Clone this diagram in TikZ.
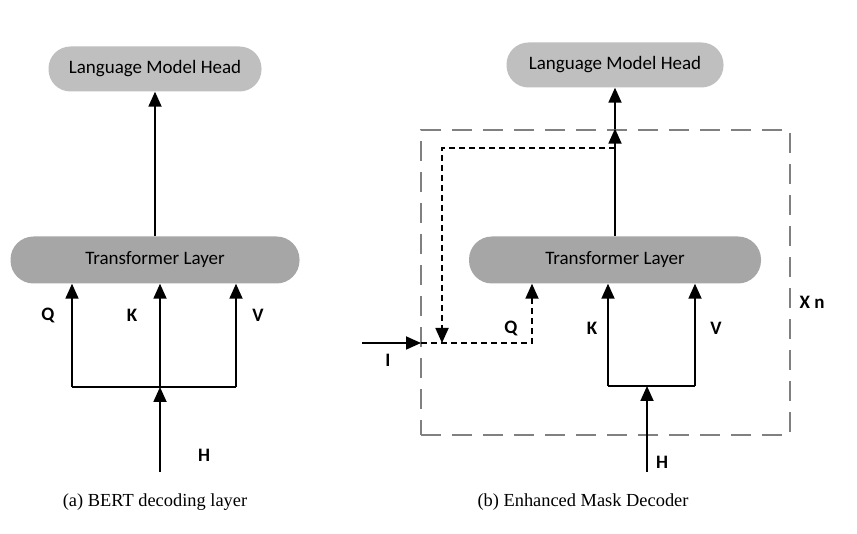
\documentclass[tikz,border=0pt]{standalone}
\usepackage{fontspec}
\setmainfont{Liberation Serif}
\newfontfamily\boxfont{Carlito}
\usetikzlibrary{arrows.meta}

\definecolor{headgray}{HTML}{BFBFBF}
\definecolor{layergray}{HTML}{A6A6A6}
\definecolor{repgray}{HTML}{808080}

\tikzset{
  lmhead/.style={fill=headgray, rounded corners=22pt, minimum height=45pt, inner sep=0pt, font=\boxfont\fontsize{19}{21}\selectfont},
  tlayer/.style={fill=layergray, rounded corners=23pt, minimum height=47pt, inner sep=0pt, font=\boxfont\fontsize{19}{21}\selectfont},
  lbl/.style={font=\boxfont\bfseries\fontsize{19}{21}\selectfont},
  capt/.style={font=\fontsize{18.4}{21}\selectfont},
  tip/.style={-{Triangle[length=15pt,width=13pt]}},
  flow/.style={line width=1.8pt, tip},
  plain/.style={line width=1.8pt},
  repbox/.style={draw=repgray, line width=2.8pt, dash pattern=on 20pt off 11pt, minimum width=369pt, minimum height=305pt, inner sep=0pt},
  skip/.style={line width=1.8pt, dash pattern=on 6pt off 4pt}
}

\begin{document}
\begin{tikzpicture}[x=1pt, y=-1pt]
\useasboundingbox (0,0) rectangle (857,534);

% (a) BERT decoding layer
\node[lmhead, minimum width=213pt] (lmh1) at (155,69) {Language Model Head};
\node[tlayer, minimum width=289pt] (tl1) at (155,260) {Transformer Layer};
\coordinate (q1) at (72,387);
\coordinate (k1) at (160,387);
\coordinate (v1) at (236,387);
\coordinate (h1) at (160,472);

\draw[flow] (tl1.north) -- (lmh1.south);
\draw[flow] (q1) -- (q1 |- tl1.south);
\draw[flow] (k1) -- (k1 |- tl1.south);
\draw[flow] (v1) -- (v1 |- tl1.south);
\draw[plain] (q1) -- (v1);
\draw[flow] (h1) -- (k1);

\node[lbl] (qa) at (48,315) {Q};
\node[lbl] (ka) at (132,315) {K};
\node[lbl] (va) at (258,315) {V};
\node[lbl] (ha) at (204,455) {H};
\node[capt] (capa) at (155,502) {(a) BERT decoding layer};

% (b) Enhanced Mask Decoder
\node[lmhead, minimum width=217pt] (lmh2) at (615,65) {Language Model Head};
\node[tlayer, minimum width=292pt] (tl2) at (615,260) {Transformer Layer};
\node[repbox] (rep) at (605.5,282.5) {};
\coordinate (out2) at (tl2.north |- rep.north);
\coordinate (fb) at (615,148);
\coordinate (fbl) at (442,148);
\coordinate (in2) at (421,343);
\coordinate (i0) at (362,343);
\coordinate (q2) at (532,343);
\coordinate (k2) at (608,386);
\coordinate (v2) at (695,386);
\coordinate (hb) at (647,386);
\coordinate (h2) at (647,472);

\draw[flow] (tl2.north) -- (out2);
\draw[flow] (out2) -- (lmh2.south);
\draw[skip, tip] (fb) -- (fbl) -- (fbl |- in2);
\draw[flow] (i0) -- (in2);
\draw[skip, tip] (in2) -- (q2) -- (q2 |- tl2.south);
\draw[flow] (k2) -- (k2 |- tl2.south);
\draw[flow] (v2) -- (v2 |- tl2.south);
\draw[plain] (k2) -- (v2);
\draw[flow] (h2) -- (hb);

\node[lbl] (qb) at (511,328) {Q};
\node[lbl] (kb) at (592,328) {K};
\node[lbl] (vb) at (716,328) {V};
\node[lbl] (ib) at (388,360) {I};
\node[lbl] (xn) at (812,302) {X n};
\node[lbl] (hbl) at (662,462) {H};
\node[capt] (capb) at (583,502) {(b) Enhanced Mask Decoder};

\end{tikzpicture}
\end{document}
